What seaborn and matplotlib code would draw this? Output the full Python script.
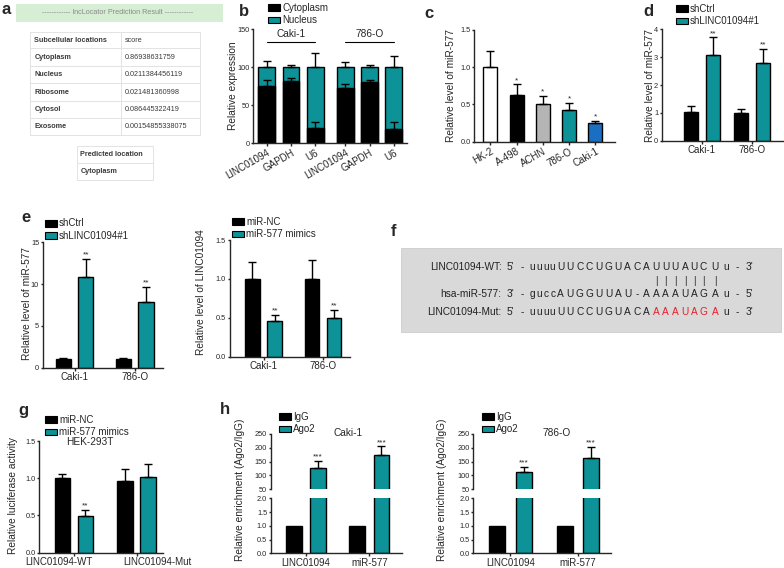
import numpy as np
import pandas as pd
import matplotlib
matplotlib.use("Agg")
import matplotlib.pyplot as plt
import matplotlib.transforms as mtrans
import seaborn as sns
from matplotlib.patches import Patch, Rectangle

sns.set_style("ticks")
plt.rcParams['font.family'] = ['Liberation Sans', 'DejaVu Sans']

# ---------------- data ----------------
TEAL = '#0c9297'
BLUE = '#1b6fc2'

# a
a_locations = ["Cytoplasm", "Nucleus", "Ribosome", "Cytosol", "Exosome"]
a_scores = ["0.86938631759", "0.0211384456119", "0.021481360998",
            "0.086445322419", "0.00154855338075"]
a_predicted = "Cytoplasm"

# b
b_labels = ["LINC01094", "GAPDH", "U6", "LINC01094", "GAPDH", "U6"]
b_cells = ["Caki-1", "786-O"]
b_cyto = [75, 82, 20, 72, 80, 19]
b_cyto_err = [8, 3, 7, 6, 3, 8]
b_total = [100, 100, 100, 100, 100, 100]
b_total_err = [8, 3, 19, 7, 3, 14]

# c
c_cats = ["HK-2", "A-498", "ACHN", "786-O", "Caki-1"]
c_vals = [1.0, 0.63, 0.51, 0.42, 0.25]
c_err = [0.22, 0.14, 0.10, 0.10, 0.03]
c_sig = ["", "*", "*", "*", "*"]

# d
d_groups = ["Caki-1", "786-O"]
d_hues = ["shCtrl", "shLINC01094#1"]
d_vals = {"shCtrl": [1.02, 1.0], "shLINC01094#1": [3.08, 2.78]}
d_err = {"shCtrl": [0.22, 0.15], "shLINC01094#1": [0.62, 0.50]}
d_sig = {"shCtrl": ["", ""], "shLINC01094#1": ["**", "**"]}

# e (left)
e1_groups = ["Caki-1", "786-O"]
e1_hues = ["shCtrl", "shLINC01094#1"]
e1_vals = {"shCtrl": [1.0, 1.0], "shLINC01094#1": [10.8, 7.8]}
e1_err = {"shCtrl": [0.2, 0.15], "shLINC01094#1": [2.2, 1.9]}
e1_sig = {"shCtrl": ["", ""], "shLINC01094#1": ["**", "**"]}

# e (right)
e2_groups = ["Caki-1", "786-O"]
e2_hues = ["miR-NC", "miR-577 mimics"]
e2_vals = {"miR-NC": [1.0, 1.0], "miR-577 mimics": [0.46, 0.50]}
e2_err = {"miR-NC": [0.22, 0.24], "miR-577 mimics": [0.08, 0.10]}
e2_sig = {"miR-NC": ["", ""], "miR-577 mimics": ["**", "**"]}

# f
f_wt = list("uuuuUUCCUGUACAUUUAUCUu")
f_mir = list("guccAUGGUUAU-AAAAUAGAu")
f_mut = list("uuuuUUCCUGUACAAAAUAGAu")
f_mut_red = list(range(14, 21))
f_pairs = list(range(14, 21))

# g
g_groups = ["LINC01094-WT", "LINC01094-Mut"]
g_hues = ["miR-NC", "miR-577 mimics"]
g_vals = {"miR-NC": [1.0, 0.96], "miR-577 mimics": [0.49, 1.01]}
g_err = {"miR-NC": [0.06, 0.17], "miR-577 mimics": [0.09, 0.18]}
g_sig = {"miR-NC": ["", ""], "miR-577 mimics": ["**", ""]}

# h
h_groups = ["LINC01094", "miR-577"]
h_hues = ["IgG", "Ago2"]
h1_vals = {"IgG": [1, 1], "Ago2": [128, 175]}
h1_err = {"IgG": [0, 0], "Ago2": [25, 30]}
h2_vals = {"IgG": [1, 1], "Ago2": [113, 164]}
h2_err = {"IgG": [0, 0], "Ago2": [18, 38]}
h_sig = {"IgG": ["", ""], "Ago2": ["***", "***"]}

# ---------------- layout helpers ----------------
W, H = 784, 568
fig = plt.figure(figsize=(W / 100, H / 100), dpi=100)
ov = fig.add_axes([0, 0, 1, 1])
ov.set_xlim(0, W)
ov.set_ylim(H, 0)
ov.axis('off')


def add_ax(l, t, r, b):
    return fig.add_axes([l / W, 1 - b / H, (r - l) / W, (b - t) / H])


def style(ax):
    sns.despine(ax=ax)
    for s in ['left', 'bottom']:
        ax.spines[s].set_linewidth(1.0)
    ax.tick_params(axis='y', labelsize=5.3, length=1.8, width=1.0, pad=0.8)
    ax.tick_params(axis='x', labelsize=7, length=2.0, width=1.0, pad=1.2)
    ax.set_xlabel('')
    ax.set_ylabel('')
    ax.patch.set_alpha(0)


def errs(ax, xs, vals, es, sig=None):
    for i, (x, v, e) in enumerate(zip(xs, vals, es)):
        if e > 0:
            ax.errorbar([x], [v], yerr=[[0], [e]], fmt='none', ecolor='black',
                        elinewidth=1.0, capsize=2.8, capthick=1.0, zorder=4)
        if sig and sig[i]:
            ax.annotate(sig[i], (x, v + e), xytext=(0, 0.3), textcoords='offset points',
                        ha='center', va='bottom', fontsize=6)


def grouped(ax, groups, hues, vals, errd, colors, width, gap, sig=None, do_err=True):
    rows = [(g, h, vals[h][i]) for h in hues for i, g in enumerate(groups)]
    df = pd.DataFrame(rows, columns=['group', 'cond', 'value'])
    sns.barplot(data=df, x='group', y='value', hue='cond', order=groups,
                hue_order=hues, palette=colors, width=width, gap=gap,
                saturation=1, edgecolor='black', linewidth=1.0,
                errorbar=None, legend=False, ax=ax)
    n = len(hues)
    if do_err:
        for j, h in enumerate(hues):
            xs = [i + (j - (n - 1) / 2) * width / n for i in range(len(groups))]
            errs(ax, xs, vals[h], errd[h], sig[h] if sig else None)


def legend(x, y, labels, colors):
    handles = [Patch(facecolor=c, edgecolor='black', linewidth=0.8) for c in colors]
    fig.legend(handles, labels, loc='upper left', bbox_to_anchor=(x / W, 1 - y / H),
               frameon=False, fontsize=7, handlelength=1.25, handleheight=0.7,
               handletextpad=0.2, labelspacing=0.25, borderpad=0, borderaxespad=0)


def ylab(x, y, s):
    ov.text(x, y, s, rotation=90, ha='center', va='center', fontsize=7.3)


def plab(x, y, s):
    ov.text(x, y, s, ha='center', va='center', fontsize=12, fontweight='bold')


def fmt1(ax, ticks):
    ax.set_yticks(ticks)
    ax.set_yticklabels([f"{t:.1f}" for t in ticks])


# ---------------- panel a ----------------
plab(6, 10, 'a')
ov.add_patch(Rectangle((16, 4), 207, 17.5, facecolor='#d6eed3', edgecolor='none'))
ov.text(118, 12.8, '------------ lncLocator Prediction Result ------------',
        ha='center', va='center', fontsize=5.2, color='#8a8a8a')
rows_y = [31.7, 48.3, 66, 83.3, 100.7, 118.3, 135]
tl, tr, tm = 30, 200, 120.7
lc = '#e3e3e3'
for yy in rows_y:
    ov.plot([tl, tr], [yy, yy], color=lc, lw=0.7)
for xx in [tl, tm, tr]:
    ov.plot([xx, xx], [rows_y[0], rows_y[-1]], color=lc, lw=0.7)
table_rows = [("Subcellular locations", "score")] + list(zip(a_locations, a_scores))
for k, (c1, c2) in enumerate(table_rows):
    yc = (rows_y[k] + rows_y[k + 1]) / 2
    ov.text(tl + 4.5, yc, c1, ha='left', va='center', fontsize=5.2,
            fontweight='bold', color='#3a3a3a')
    ov.text(tm + 4.5, yc, c2, ha='left', va='center', fontsize=5.2, color='#3a3a3a')
p_y = [145.7, 163.3, 180]
for yy in p_y:
    ov.plot([76.7, 153.3], [yy, yy], color=lc, lw=0.7)
for xx in [76.7, 153.3]:
    ov.plot([xx, xx], [p_y[0], p_y[-1]], color=lc, lw=0.7)
for k, s in enumerate(["Predicted location", a_predicted]):
    ov.text(80.5, (p_y[k] + p_y[k + 1]) / 2, s, ha='left', va='center',
            fontsize=5.2, fontweight='bold', color='#3a3a3a')

# ---------------- panel b ----------------
plab(244, 12, 'b')
b_pos = [0, 1, 2, 3.23, 4.23, 5.23]
axb = add_ax(253, 29, 407, 143)
dfb = pd.DataFrame({'pos': b_pos, 'total': b_total, 'cyto': b_cyto})
sns.barplot(data=dfb, x='pos', y='total', native_scale=True, color=TEAL,
            saturation=1, edgecolor='black', linewidth=1.0, width=0.69,
            errorbar=None, ax=axb)
sns.barplot(data=dfb, x='pos', y='cyto', native_scale=True, color='black',
            saturation=1, edgecolor='black', linewidth=1.0, width=0.69,
            errorbar=None, ax=axb)
errs(axb, b_pos, b_total, b_total_err)
errs(axb, b_pos, b_cyto, b_cyto_err)
style(axb)
axb.set_xlim(-0.56, 5.77)
axb.set_ylim(0, 150)
axb.set_yticks([0, 50, 100, 150])
axb.set_xticks(b_pos)
axb.set_xticklabels(b_labels, rotation=30, ha='right', va='top',
                    rotation_mode='anchor', fontsize=7)
for grp, cell in zip([b_pos[0:3], b_pos[3:6]], b_cells):
    axb.plot([grp[0], grp[-1]], [133, 133], color='black', lw=0.8, clip_on=False)
    axb.text((grp[0] + grp[-1]) / 2, 137, cell, ha='center', va='bottom', fontsize=7.3)
ylab(233, 86, 'Relative expression')
legend(268, 3, ['Cytoplasm', 'Nucleus'], ['black', TEAL])

# ---------------- panel c ----------------
plab(429, 13, 'c')
axc = add_ax(474.3, 30, 615, 141.7)
sns.barplot(x=c_cats, y=c_vals, hue=c_cats, palette=['white', 'black', '#b5b5b5', TEAL, BLUE],
            legend=False, width=0.53, saturation=1, edgecolor='black', linewidth=1.0,
            errorbar=None, ax=axc)
errs(axc, list(range(len(c_cats))), c_vals, c_err, c_sig)
style(axc)
axc.set_xlim(-0.61, 4.75)
axc.set_ylim(0, 1.5)
fmt1(axc, [0, 0.5, 1.0, 1.5])
axc.set_xticks(range(len(c_cats)))
axc.set_xticklabels(c_cats, rotation=30, ha='right', va='top',
                    rotation_mode='anchor', fontsize=7)
ylab(451, 86, 'Relative level of miR-577')

# ---------------- panel d ----------------
plab(648, 11, 'd')
axd = add_ax(661.7, 29, 783, 141)
grouped(axd, d_groups, d_hues, d_vals, d_err, ['black', TEAL], 0.86, 0.35, d_sig)
style(axd)
axd.set_xlim(-0.806, 1.62)
axd.set_ylim(0, 4)
axd.set_yticks([0, 1, 2, 3, 4])
ylab(650, 85, 'Relative level of miR-577')
legend(676, 4, d_hues, ['black', TEAL])

# ---------------- panel e ----------------
plab(26, 218, 'e')
axe1 = add_ax(42.7, 242.3, 163, 367.7)
grouped(axe1, e1_groups, e1_hues, e1_vals, e1_err, ['black', TEAL], 0.75, 0.33, e1_sig)
style(axe1)
axe1.set_xlim(-0.53, 1.47)
axe1.set_ylim(0, 15)
axe1.set_yticks([0, 5, 10, 15])
ylab(27, 303, 'Relative level of miR-577')
legend(45, 218.5, e1_hues, ['black', TEAL])

axe2 = add_ax(229.5, 240, 350, 356.7)
grouped(axe2, e2_groups, e2_hues, e2_vals, e2_err, ['black', TEAL], 0.75, 0.35, e2_sig)
style(axe2)
axe2.set_xlim(-0.575, 1.457)
axe2.set_ylim(0, 1.5)
fmt1(axe2, [0, 0.5, 1.0, 1.5])
ylab(201, 292, 'Relative level of LINC01094')
legend(232, 217, e2_hues, ['black', TEAL])

# ---------------- panel f ----------------
plab(394, 231, 'f')
ov.add_patch(Rectangle((401, 248.3), 380, 83.4, facecolor='#d9d9d9',
                       edgecolor='#cccccc', lw=0.6))
slots_z = [398, 418, 438, 458] + [482 + 28.7 * k for k in range(10)] + \
          [768, 797, 826, 856, 882, 910, 945, 980]
slots = [400 + z / 3 for z in slots_z]
rows_f = [("LINC01094-WT:", "5'", "3'", f_wt, 266.7),
          ("hsa-miR-577:", "3'", "5'", f_mir, 294.3),
          ("LINC01094-Mut:", "5'", "3'", f_mut, 311.7)]
fs_f = 7.3
for name, e5, e3, seq, yy in rows_f:
    ov.text(501.7, yy, name, ha='right', va='center', fontsize=fs_f, color='#222222')
    ov.text(510, yy, e5, ha='center', va='center', fontsize=fs_f, color='#222222')
    ov.text(522.7, yy, '-', ha='center', va='center', fontsize=fs_f, color='#222222')
    ov.text(737.3, yy, '-', ha='center', va='center', fontsize=fs_f, color='#222222')
    ov.text(749, yy, e3, ha='center', va='center', fontsize=fs_f, color='#222222')
    for k, ch in enumerate(seq):
        col = '#e8202a' if (seq is f_mut and k in f_mut_red) else '#222222'
        ov.text(slots[k], yy, ch, ha='center', va='center', fontsize=fs_f, color=col)
for k in f_pairs:
    ov.text(slots[k], 280.7, '|', ha='center', va='center', fontsize=7, color='#222222')

# ---------------- panel g ----------------
plab(23, 410, 'g')
axg = add_ax(39.3, 441, 163, 552.7)
grouped(axg, g_groups, g_hues, g_vals, g_err, ['black', TEAL], 0.73, 0.33, g_sig)
style(axg)
axg.set_xlim(-0.548, 1.42)
axg.set_ylim(0, 1.5)
fmt1(axg, [0, 0.5, 1.0, 1.5])
axg.set_xticks(range(len(g_groups)))
axg.set_xticklabels(g_groups, fontsize=7)
for lbl, dx in zip(axg.get_xticklabels(), [-15, 21]):
    lbl.set_transform(lbl.get_transform() +
                      mtrans.ScaledTranslation(dx / 100, 0, fig.dpi_scale_trans))
ylab(13, 495, 'Relative luciferase activity')
legend(45, 415, g_hues, ['black', TEAL])
ov.text(90, 442, 'HEK-293T', ha='center', va='center', fontsize=7.3)

# ---------------- panel h ----------------
plab(225, 410, 'h')


def broken(l, r, vals, errd, xl, title, tx, yl_x, leg_x):
    up = add_ax(l, 434, r, 489.3)
    lo = add_ax(l, 498.3, r, 553.3)
    grouped(up, h_groups, h_hues, vals, errd, ['black', TEAL], xl[2], xl[3], h_sig)
    grouped(lo, h_groups, h_hues, vals, errd, ['black', TEAL], xl[2], xl[3], do_err=False)
    for ax in (up, lo):
        style(ax)
        ax.set_xlim(xl[0], xl[1])
    up.set_ylim(50, 250)
    up.set_yticks([50, 100, 150, 200, 250])
    up.spines['bottom'].set_visible(False)
    up.tick_params(axis='x', bottom=False, labelbottom=False)
    lo.set_ylim(0, 2)
    fmt1(lo, [0, 0.5, 1.0, 1.5, 2.0])
    ov.text(tx, 432.5, title, ha='center', va='center', fontsize=7.3)
    ylab(yl_x, 490, 'Relative enrichment (Ago2/IgG)')
    legend(leg_x, 412, h_hues, ['black', TEAL])


broken(270.7, 401.7, h1_vals, h1_err, (-0.553, 1.51, 0.757, 0.35), 'Caki-1', 348, 240.5, 279)
broken(473.3, 611, h2_vals, h2_err, (-0.551, 1.49, 0.785, 0.39), '786-O', 556.7, 442.5, 482)

fig.savefig('out.png', dpi=100)
